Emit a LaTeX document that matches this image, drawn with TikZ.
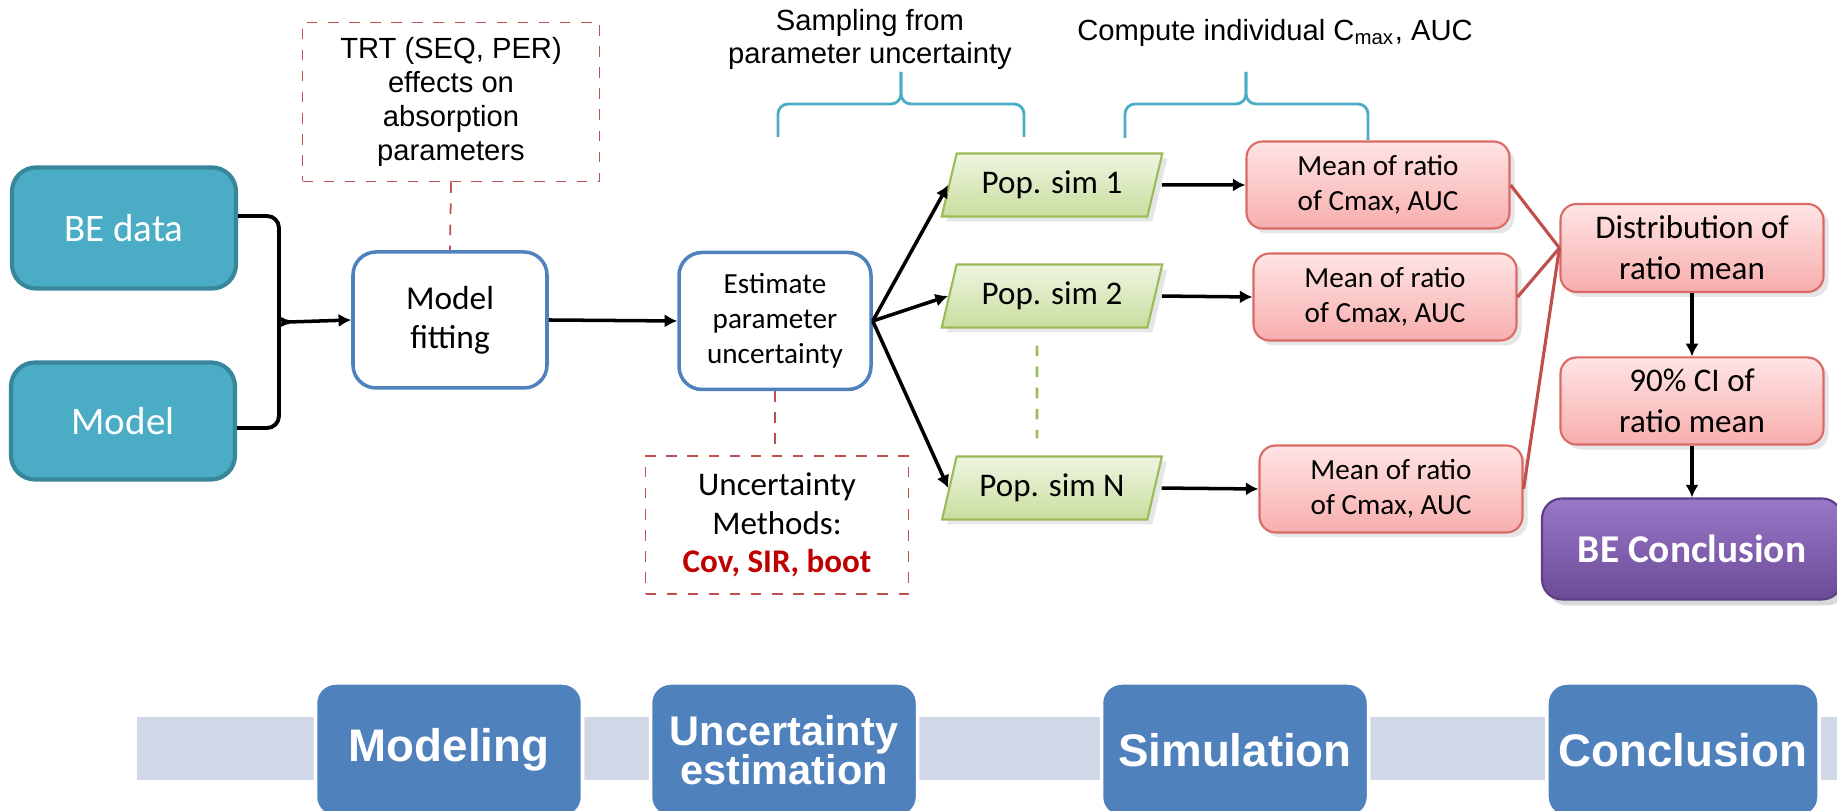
\documentclass[tikz,border=0pt]{standalone}
\usepackage{fontspec}
\setmainfont{Carlito}
\newfontfamily\arialfont{Liberation Sans}
\usetikzlibrary{arrows.meta,shapes.geometric,shadows}
\definecolor{beteal}{HTML}{4BACC6}
\definecolor{betealdk}{HTML}{37869B}
\definecolor{stepblue}{HTML}{4F81BD}
\definecolor{notered}{HTML}{C0504D}
\definecolor{simgreen}{HTML}{9BBB59}
\definecolor{simtop}{HTML}{EEF5E2}
\definecolor{simbot}{HTML}{C9DE9E}
\definecolor{meanedge}{HTML}{DA6A66}
\definecolor{meantop}{HTML}{FFE4E4}
\definecolor{meanbot}{HTML}{F7AEAD}
\definecolor{purptop}{HTML}{9A78C8}
\definecolor{purpbot}{HTML}{6B4A98}
\definecolor{purpedge}{HTML}{5C3F85}
\definecolor{bandgray}{HTML}{D0D8E8}
\definecolor{covred}{HTML}{C00000}

\begin{document}
\begin{tikzpicture}[
  x=0.1mm, y=0.1mm,
  databox/.style={rounded corners=2.4mm,fill=beteal,draw=betealdk,line width=1.2pt,text=white,minimum width=22.4mm,minimum height=12.1mm,font=\fontsize{11.1}{13}\selectfont},
  stepbox/.style={rounded corners=2.3mm,fill=white,draw=stepblue,line width=1pt,align=center},
  note/.style={draw=notered,dashed,line width=0.5pt,align=center},
  popsim/.style={trapezium,trapezium left angle=76,trapezium right angle=104,trapezium stretches=true,minimum width=22.1mm,minimum height=6.3mm,draw=simgreen,line width=0.6pt,top color=simtop,bottom color=simbot,drop shadow={opacity=0.2,shadow xshift=0.5mm,shadow yshift=-0.5mm},font=\fontsize{9.4}{11}\selectfont},
  meanbox/.style={rounded corners=1.6mm,draw=meanedge,line width=0.6pt,top color=meantop,bottom color=meanbot,minimum width=26.3mm,minimum height=8.7mm,align=center,drop shadow={opacity=0.2,shadow xshift=0.5mm,shadow yshift=-0.5mm},font=\fontsize{8.3}{10}\selectfont},
  endbox/.style={rounded corners=2mm,draw=purpedge,line width=0.6pt,top color=purptop,bottom color=purpbot,text=white,minimum width=30mm,minimum height=10.1mm,drop shadow={opacity=0.3,shadow xshift=0.5mm,shadow yshift=-0.6mm},font=\bfseries\fontsize{11.2}{13}\selectfont},
  phase/.style={rounded corners=2mm,fill=stepblue,draw=white,line width=1pt,text=white,align=center,minimum width=26.7mm,minimum height=13.4mm,font=\arialfont\bfseries\fontsize{13}{14}\selectfont},
  arr/.style={-{Latex[length=3.6pt,width=3.8pt]},line width=1pt},
  curly/.style={line width=1.1pt,rounded corners=1.2mm},
  bracket/.style={draw=beteal,line width=0.8pt,rounded corners=1mm},
  link/.style={draw=notered,line width=0.9pt}]

\clip (0,0) rectangle (1837,811);

% inputs and model fitting
\node[databox] (bedata) at (124,583) {BE data};
\node[databox,minimum height=11.7mm] (model) at (123,390) {Model};
\node[stepbox,minimum width=19.4mm,minimum height=13.6mm,font=\fontsize{9.5}{11.2}\selectfont] (fitting) at (450,491) {Model\\fitting};
\node[note,minimum width=29.7mm,minimum height=15.9mm,font=\arialfont\fontsize{8.3}{9.7}\selectfont] (trt) at (451,709) {TRT (SEQ, PER)\\effects on\\absorption\\parameters};

% uncertainty
\node[stepbox,minimum width=19.2mm,minimum height=13.7mm,font=\fontsize{8.3}{10}\selectfont] (estimate) at (775,490) {Estimate\\parameter\\uncertainty};
\node[note,minimum width=26.3mm,minimum height=13.8mm,font=\fontsize{9.4}{10.9}\selectfont] (methods) at (777,286) {Uncertainty\\Methods:\\\textcolor{covred}{\bfseries Cov, SIR, boot}};

% simulation
\node[popsim] (popA) at (1052,626) {Pop. sim 1};
\node[popsim] (popB) at (1052,515) {Pop. sim 2};
\node[popsim] (popN) at (1052,323) {Pop. sim N};

\node[meanbox] (meanA) at (1378,626) {Mean of ratio\\of Cmax, AUC};
\node[meanbox] (meanB) at (1385,514) {Mean of ratio\\of Cmax, AUC};
\node[meanbox] (meanC) at (1391,322) {Mean of ratio\\of Cmax, AUC};

% conclusion
\node[meanbox,minimum height=8.8mm,font=\fontsize{9.4}{11.6}\selectfont] (dist) at (1692,563) {Distribution of\\ratio mean};
\node[meanbox,font=\fontsize{9.4}{11.6}\selectfont] (ci) at (1692,410) {90\% CI of\\ratio mean};
\node[endbox] (concl) at (1692,262) {BE Conclusion};

\node[align=center,font=\arialfont\fontsize{8.3}{9.4}\selectfont] (samplab) at (870,772) {Sampling from\\parameter uncertainty};
\node[font=\arialfont\fontsize{8.3}{10}\selectfont] (complab) at (1275,778) {Compute individual C\textsubscript{max}, AUC};

\draw[bracket] (778,674) |- (901,707) -- (901,739);
\draw[bracket] (1024,674) |- (901,707) -- (901,739);
\draw[bracket] (1125,673) |- (1246,707) -- (1246,739);
\draw[bracket] (1368,671) |- (1246,707) -- (1246,739);

% connectors
\coordinate (join) at (289,489);
\draw[curly] ([yshift=1.2mm]bedata.east) -| (279,502) to[out=-90,in=180] (join);
\draw[curly] ([yshift=-0.7mm]model.east) -| (279,476) to[out=90,in=180] (join);
\draw[arr] (join) -- (fitting.west);
\draw[note] (trt.south) -- (fitting.north);
\draw[arr] (fitting.east) -- (estimate.west);
\draw[note] (estimate.south) -- (estimate.south |- methods.north);

\draw[arr] (estimate.east) -- (popA.west);
\draw[arr] (estimate.east) -- (popB.west);
\draw[arr] (estimate.east) -- (popN.west);
\draw[simgreen,dashed,line width=0.8pt] ([xshift=-1.5mm,yshift=-1.7mm]popB.south) -- ([xshift=-1.5mm,yshift=1.7mm]popN.north);

\draw[arr,shorten <=0.6mm] (popA.east) -- (meanA.west);
\draw[arr,shorten <=0.6mm] (popB.east) -- (meanB.west);
\draw[arr,shorten <=0.6mm] (popN.east) -- (meanC.west);

\draw[link] (meanA.east) -- (dist.west);
\draw[link] (meanB.east) -- (dist.west);
\draw[link] (meanC.east) -- (dist.west);
\draw[arr] (dist.south) -- (ci.north);
\draw[arr] (ci.south) -- (concl.north);

% phase bar
\fill[bandgray] (137,31) rectangle (1837,94);
\node[phase] (phmodel) at (449,61) {Modeling};
\node[phase,font=\arialfont\bfseries\fontsize{11.8}{11}\selectfont] (phunc) at (784,61) {Uncertainty\\estimation};
\node[phase] (phsim) at (1235,61) {Simulation};
\node[phase] (phconcl) at (1683,61) {Conclusion};
\end{tikzpicture}
\end{document}
